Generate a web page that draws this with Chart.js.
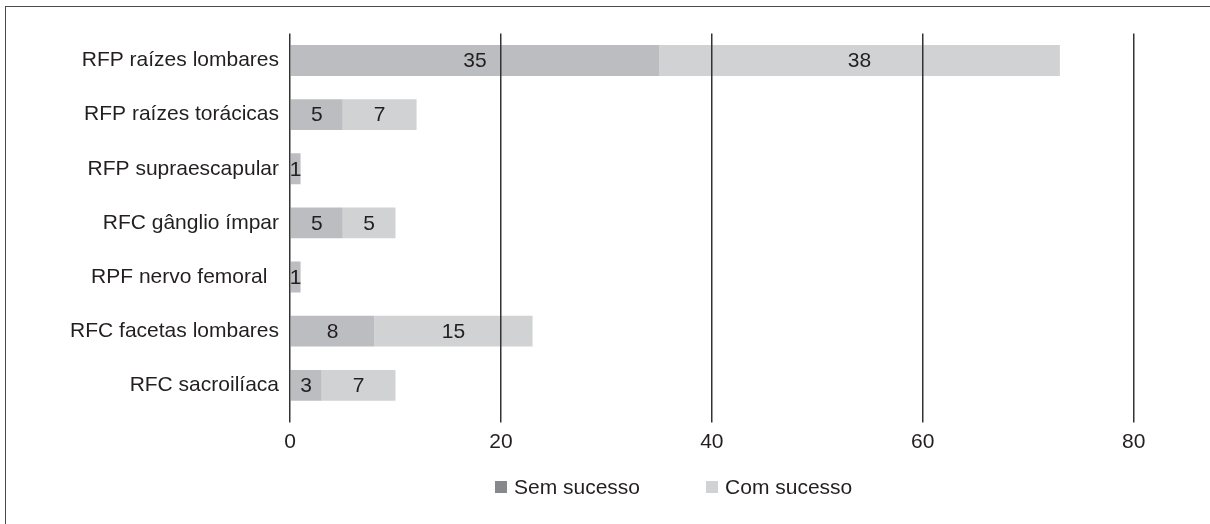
<!DOCTYPE html>
<html>
<head>
<meta charset="utf-8">
<script src="https://cdn.jsdelivr.net/npm/chart.js@4"></script>
<style>
  html, body { margin: 0; padding: 0; background: #fff; }
  #wrap { position: relative; width: 1210px; height: 524px; overflow: hidden; }
  #frame { position: absolute; left: 5px; top: 6px; width: 1300px; height: 600px;
           border-left: 1.5px solid #4a4a4a; border-top: 1.5px solid #4a4a4a; }
  #chart { position: absolute; left: 0; top: 0; }
  #legend { position: absolute; left: 495px; top: 475px; height: 24px; display: flex; align-items: center;
            font: 21px "Liberation Sans", Arial, sans-serif; color: #231f20; }
  .item { display: flex; align-items: center; }
  .box { width: 12px; height: 12px; margin-right: 7px; }
</style>
</head>
<body>
<div id="wrap">
  <div id="frame"></div>
  <canvas id="chart" width="1210" height="524"></canvas>
  <div id="legend"></div>
</div>
<script>
const categories = [
    'RFP raízes lombares',
    'RFP raízes torácicas',
    'RFP supraescapular',
    'RFC gânglio ímpar',
    'RPF nervo femoral  ',
    'RFC facetas lombares',
    'RFC sacroilíaca'
];
const semSucesso = [35, 5, 1, 5, 1, 8, 3];
const comSucesso = [38, 7, 0, 5, 0, 15, 7];
const xTicks = [0, 20, 40, 60, 80];

const FONT = '"Liberation Sans", Arial, sans-serif';
const TEXT = '#231f20';

const seriesInfo = [
    { label: 'Sem sucesso', data: semSucesso, color: '#bcbdc0', legend: '#87888b' },
    { label: 'Com sucesso', data: comSucesso, color: '#d1d2d4', legend: '#d1d2d4' }
];

// numbers inside each segment
const barLabels = {
    id: 'barLabels',
    afterDatasetsDraw(chart) {
        const ctx = chart.ctx;
        ctx.save();
        ctx.font = '21px ' + FONT;
        ctx.fillStyle = TEXT;
        ctx.textAlign = 'center';
        ctx.textBaseline = 'middle';
        chart.data.datasets.forEach((ds, di) => {
            chart.getDatasetMeta(di).data.forEach((bar, i) => {
                const v = ds.data[i];
                if (!v) return;
                ctx.fillText(String(v), (bar.x + bar.base) / 2, bar.y + 1);
            });
        });
        ctx.restore();
    }
};

const ctx = document.getElementById('chart').getContext('2d');
new Chart(ctx, {
    type: 'bar',
    data: {
        labels: categories,
        datasets: seriesInfo.map(s => ({
            label: s.label,
            data: s.data,
            backgroundColor: s.color,
            borderWidth: 0,
            categoryPercentage: 1,
            barPercentage: 0.57
        }))
    },
    options: {
        indexAxis: 'y',
        responsive: false,
        animation: false,
        layout: { padding: { top: 33.4, right: 76.3, bottom: 62, left: 0 } },
        plugins: { legend: { display: false }, tooltip: { enabled: false } },
        scales: {
            x: {
                stacked: true,
                min: 0,
                max: 80,
                afterBuildTicks: axis => { axis.ticks = xTicks.map(v => ({ value: v })); },
                grid: { color: '#333', lineWidth: 1.5, tickLength: 10, z: 1 },
                border: { display: false },
                ticks: { color: TEXT, font: { family: FONT, size: 21 }, padding: 7.2, maxRotation: 0 }
            },
            y: {
                stacked: true,
                grid: { display: false, drawTicks: false },
                border: { display: false },
                afterFit: axis => { axis.width = 290; },
                ticks: { color: TEXT, font: { family: FONT, size: 21 }, padding: 11 }
            }
        }
    },
    plugins: [barLabels]
});

const legendEl = document.getElementById('legend');
seriesInfo.forEach((s, i) => {
    const item = document.createElement('div');
    item.className = 'item';
    if (i > 0) item.style.marginLeft = '66px';
    const box = document.createElement('span');
    box.className = 'box';
    box.style.background = s.legend;
    const txt = document.createElement('span');
    txt.textContent = s.label;
    item.appendChild(box);
    item.appendChild(txt);
    legendEl.appendChild(item);
});
</script>
</body>
</html>
